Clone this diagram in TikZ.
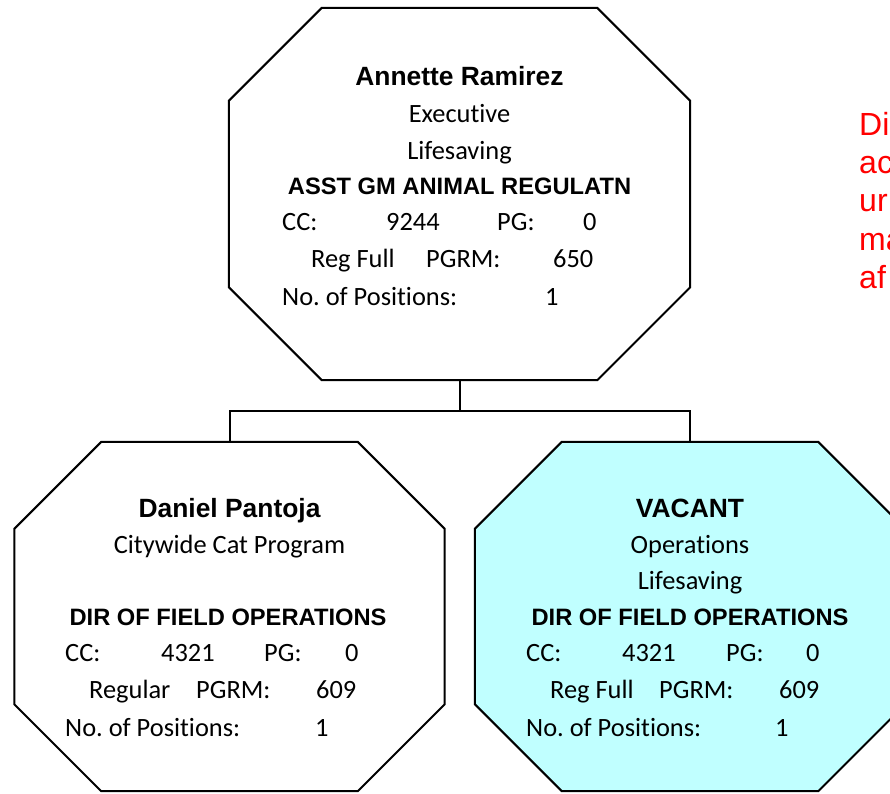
\documentclass[tikz,border=0pt]{standalone}
\usepackage{fontspec}
\setmainfont{Carlito}[Ligatures=NoCommon]
\newfontfamily\headfont{Liberation Sans}
\definecolor{vacant}{RGB}{192,255,255}
\frenchspacing

% octagon drawn round a box node: name, chamfer, options
\newcommand{\octagon}[3]{%
  \draw[octline,#3] ([xshift=#2]#1.north west) -- ([xshift=-#2]#1.north east)
    -- ([yshift=-#2]#1.north east) -- ([yshift=#2]#1.south east)
    -- ([xshift=-#2]#1.south east) -- ([xshift=#2]#1.south west)
    -- ([yshift=#2]#1.south west) -- ([yshift=-#2]#1.north west) -- cycle;}

\begin{document}
\begin{tikzpicture}
  [x=1pt,y=-1pt,
   octline/.style={line width=2pt,draw=black},
   link/.style={line width=2pt},
   posbox/.style={inner sep=0pt,minimum width=#1},
   field/.style={anchor=base west,inner sep=0pt,font=\fontsize{26.4}{30}\selectfont},
   plain/.style={anchor=base,inner sep=0pt,font=\fontsize{26.4}{30}\selectfont},
   headname/.style={anchor=base,inner sep=0pt,font=\headfont\bfseries\fontsize{26.4}{30}\selectfont},
   headtitle/.style={anchor=base,inner sep=0pt,font=\headfont\bfseries\fontsize{23.7}{28}\selectfont},
   sidenote/.style={anchor=base west,inner sep=0pt,text=red,font=\headfont\fontsize{32}{38}\selectfont}]
  \useasboundingbox (0,0) rectangle (890,793);
  \clip (0,0) rectangle (890,793);

  \node[posbox=461pt,minimum height=372pt] (top) at (459.5,194) {};
  \node[posbox=430pt,minimum height=349pt] (left) at (229.5,616.5) {};
  \node[posbox=430pt,minimum height=349pt] (right) at (690,616.5) {};

  \octagon{top}{93pt}{fill=white}
  \octagon{left}{87pt}{fill=white}
  \octagon{right}{87pt}{fill=vacant}

  \draw[link] (top.south) -- ++(0,31) -| (left.north);
  \draw[link] (top.south) -- ++(0,31) -| (right.north);

  % top box
  \node[headname] (topname) at (459.5,85) {Annette Ramirez};
  \node[plain] (topunit) at (459.5,122) {Executive};
  \node[plain] (topdiv) at (459.5,159) {Lifesaving};
  \node[headtitle] (toptitle) at (459.5,194) {ASST GM ANIMAL REGULATN};

  % left box
  \node[headname] (leftname) at (229.5,517) {Daniel Pantoja};
  \node[plain] (leftunit) at (229.5,553) {Citywide Cat Program};
  \node[headtitle] (lefttitle) at (228,625) {DIR OF FIELD OPERATIONS};

  % right box
  \node[headname] (rightname) at (690,517) {VACANT};
  \node[plain] (rightunit) at (690,553) {Operations};
  \node[plain] (rightdiv) at (690,589) {Lifesaving};
  \node[headtitle] (righttitle) at (690,625) {DIR OF FIELD OPERATIONS};

  \foreach \n/\x/\y/\t in
  {topcc/282/230/CC:, topccv/386/230/9244, toppg/497/230/PG:, toppgv/583/230/0,
   topreg/311/267/Reg Full, toppgrm/426/267/PGRM:, toppgrmv/553/267/650,
   topno/282/305/No. of Positions:, topnov/545/305/1,
   leftcc/65/661/CC:, leftccv/161/661/4321, leftpg/264/661/PG:, leftpgv/345/661/0,
   leftreg/89/698/Regular, leftpgrm/196/698/PGRM:, leftpgrmv/316/698/609,
   leftno/65/736/No. of Positions:, leftnov/315/736/1,
   rightcc/526/661/CC:, rightccv/622/661/4321, rightpg/726/661/PG:, rightpgv/806/661/0,
   rightreg/550/698/Reg Full, rightpgrm/659/698/PGRM:, rightpgrmv/779/698/609,
   rightno/526/736/No. of Positions:, rightnov/775/736/1}
    \node[field] (\n) at (\x,\y) {\t};

  \foreach \t [count=\i] in {Di,ac,ur,ma,af}
    \node[sidenote] (note\i) at (859,{135+38.4*(\i-1)}) {\t};
\end{tikzpicture}
\end{document}
